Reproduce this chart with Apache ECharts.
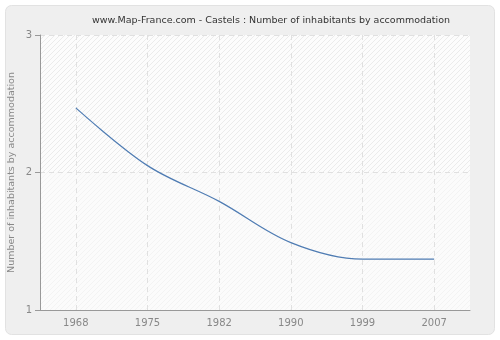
<!DOCTYPE html>
<html>
<head>
<meta charset="utf-8">
<script src="https://cdn.jsdelivr.net/npm/echarts@6/dist/echarts.min.js"></script>
<style>
  html, body { margin: 0; padding: 0; background: #ffffff; }
  #chart { width: 500px; height: 340px; }
</style>
</head>
<body>
<div id="chart"></div>
<script>
// Census years and average number of inhabitants per dwelling
const years = ['1968', '1975', '1982', '1990', '1999', '2007'];
const inhabitantsPerHome = [2.47, 2.05, 1.79, 1.49, 1.37, 1.37];
const yTicks = [1, 2, 3];

// Diagonal hatch tile used to fill the plot bands
function hatch(bg, line, size) {
  const c = document.createElement('canvas');
  c.width = size; c.height = size;
  const g = c.getContext('2d');
  g.fillStyle = bg;
  g.fillRect(0, 0, size, size);
  g.strokeStyle = line;
  g.lineWidth = 1;
  g.beginPath();
  g.moveTo(0, size); g.lineTo(size, 0);
  g.moveTo(-size / 2, size / 2); g.lineTo(size / 2, -size / 2);
  g.moveTo(size / 2, size * 1.5); g.lineTo(size * 1.5, size / 2);
  g.stroke();
  return { image: c, repeat: 'repeat' };
}

const dashed = { color: '#e0e0e0', type: [5, 4], width: 1 };

const chart = echarts.init(document.getElementById('chart'), null, { renderer: 'canvas' });
chart.setOption({
  backgroundColor: '#ffffff',
  animation: false,
  graphic: [{
    type: 'rect',
    z: -10,
    shape: { x: 5.5, y: 5.5, width: 489, height: 329, r: 6 },
    style: { fill: '#efefef', stroke: '#e2e2e2', lineWidth: 1 }
  }],
  title: {
    text: 'www.Map-France.com - Castels : Number of inhabitants by accommodation',
    left: 87,
    top: 11,
    textStyle: { fontFamily: 'DejaVu Sans', fontSize: 9.5, fontWeight: 'normal', color: '#333333' }
  },
  grid: {
    left: 40, right: 30, top: 35, bottom: 30,
    outerBoundsMode: 'none',
    containLabel: false,
    show: true,
    backgroundColor: '#fafafa',
    borderWidth: 0
  },
  xAxis: {
    type: 'category',
    data: years,
    boundaryGap: true,
    axisLine: { lineStyle: { color: '#999999', width: 1 } },
    axisTick: { alignWithLabel: true, length: 5, lineStyle: { color: '#999999' } },
    axisLabel: { color: '#888888', fontFamily: 'DejaVu Sans', fontSize: 10, margin: 8 },
    splitLine: { show: false }
  },
  yAxis: {
    type: 'value',
    min: yTicks[0],
    max: yTicks[yTicks.length - 1],
    interval: 1,
    name: 'Number of inhabitants by accommodation',
    nameLocation: 'middle',
    nameMoveOverlap: false,
    nameGap: 23,
    nameTextStyle: { color: '#888888', fontFamily: 'DejaVu Sans', fontSize: 9.5 },
    axisLine: { show: true, lineStyle: { color: '#999999', width: 1 } },
    axisTick: { show: true, length: 5, lineStyle: { color: '#999999' } },
    axisLabel: { color: '#888888', fontFamily: 'DejaVu Sans', fontSize: 10, margin: 8 },
    splitLine: { show: true, lineStyle: dashed },
    splitArea: { show: true, areaStyle: { color: [hatch('#fbfbfb', '#f3f3f3', 5), hatch('#fcfcfc', '#ebebeb', 5)] } }
  },
  series: [{
    type: 'line',
    data: inhabitantsPerHome,
    smooth: 0.35,
    symbol: 'none',
    lineStyle: { color: '#4f7cb3', width: 1.2 },
    z: 3,
    markLine: {
      silent: true,
      symbol: 'none',
      label: { show: false },
      lineStyle: dashed,
      z: 1,
      data: years.map(y => ({ xAxis: y }))
    }
  }]
});
</script>
</body>
</html>
